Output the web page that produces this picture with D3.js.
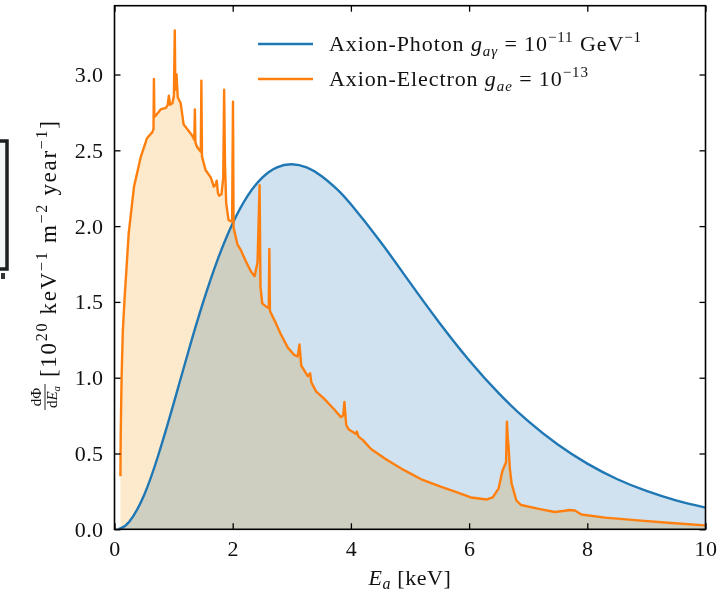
<!DOCTYPE html>
<html>
<head>
<meta charset="utf-8">
<script src="https://cdn.jsdelivr.net/npm/d3@7"></script>
<style>
  body { margin: 0; background: #fff; }
  svg { display: block; font-family: "Liberation Serif", "Times New Roman", serif; }
</style>
</head>
<body>
<div id="chart"></div>
<script>
// ticks
const xTicks = [0, 2, 4, 6, 8, 10];
const yTicks = [0, 0.5, 1.0, 1.5, 2.0, 2.5, 3.0];

// axion-photon spectrum (keV, 10^20 keV^-1 m^-2 year^-1)
const photonEnergy = [0.07, 0.1, 0.25, 0.5, 0.75, 1.0, 1.25, 1.5, 1.75, 2.0, 2.25, 2.5, 2.75, 3.0, 3.25, 3.5,
  3.75, 4.0, 4.5, 5.0, 5.5, 6.0, 6.5, 7.0, 7.5, 8.0, 8.5, 9.0, 9.5, 10];
const photonFlux = [0.002, 0.006, 0.050, 0.225, 0.500, 0.829, 1.173, 1.498, 1.784, 2.019, 2.198, 2.320, 2.388,
  2.408, 2.387, 2.331, 2.249, 2.144, 1.897, 1.627, 1.361, 1.115, 0.898, 0.713, 0.559, 0.433, 0.332, 0.253, 0.191,
  0.143];

// axion-electron spectrum, with the line features
const electronEnergy = [0.10, 0.105, 0.12, 0.14, 0.17, 0.24, 0.33, 0.44, 0.55, 0.64, 0.66, 0.667, 0.675, 0.70, 0.78,
  0.87, 0.90, 0.92, 0.94, 0.98, 1.005, 1.02, 1.03, 1.05, 1.07, 1.12, 1.17, 1.25, 1.31, 1.35, 1.36, 1.37, 1.40, 1.46,
  1.47, 1.48, 1.54, 1.63, 1.68, 1.71, 1.73, 1.75, 1.77, 1.81, 1.84, 1.855, 1.87, 1.89, 1.93, 1.99, 2.005, 2.015,
  2.08, 2.14, 2.22, 2.31, 2.37, 2.42, 2.455, 2.47, 2.50, 2.56, 2.61, 2.62, 2.63, 2.73, 2.81, 2.93, 3.04, 3.10, 3.13,
  3.16, 3.27, 3.31, 3.33, 3.41, 3.55, 3.72, 3.83, 3.87, 3.89, 3.92, 3.96, 4.08, 4.10, 4.13, 4.20, 4.34, 4.60, 4.90,
  5.19, 5.53, 5.75, 6.03, 6.30, 6.40, 6.50, 6.56, 6.60, 6.625, 6.64, 6.655, 6.665, 6.69, 6.72, 6.80, 6.88, 7.16,
  7.45, 7.62, 7.70, 7.79, 7.90, 8.30, 8.86, 9.42, 10.0];
const electronFlux = [0.35, 0.62, 1.00, 1.30, 1.52, 1.95, 2.26, 2.45, 2.58, 2.62, 2.64, 2.97, 2.72, 2.73, 2.77,
  2.78, 2.80, 2.86, 2.80, 2.81, 2.86, 3.29, 2.90, 3.00, 2.85, 2.81, 2.67, 2.63, 2.60, 2.57, 2.77, 2.55, 2.52, 2.49,
  2.96, 2.46, 2.37, 2.32, 2.26, 2.27, 2.30, 2.22, 2.20, 2.21, 2.32, 2.90, 2.40, 2.15, 2.04, 2.03, 2.82, 1.99,
  1.88, 1.84, 1.77, 1.70, 1.67, 1.76, 2.27, 1.60, 1.49, 1.47, 1.46, 1.85, 1.44, 1.36, 1.29, 1.20, 1.15, 1.14, 1.22,
  1.08, 1.01, 1.03, 0.97, 0.91, 0.86, 0.79, 0.74, 0.75, 0.84, 0.69, 0.66, 0.63, 0.645, 0.61, 0.59, 0.53, 0.46, 0.39,
  0.33, 0.28, 0.25, 0.21, 0.197, 0.21, 0.27, 0.38, 0.42, 0.44, 0.71, 0.60, 0.56, 0.40, 0.30, 0.19, 0.16, 0.136,
  0.114, 0.122, 0.127, 0.124, 0.098, 0.077, 0.059, 0.042, 0.026];

const photon = photonEnergy.map((e, i) => ({e: e, v: photonFlux[i]}));
const electron = electronEnergy.map((e, i) => ({e: e, v: electronFlux[i]}));

// set variables
const W = 720, H = 594;
const plot = {left: 114.5, right: 705.5, top: 5.7, bottom: 529.3};
let x = d3.scaleLinear().domain([0, 10]).range([plot.left, plot.right]);
let y = d3.scaleLinear().domain([0, 3.454]).range([plot.bottom, plot.top]);

let svg = d3.select("#chart")
  .append("svg")
  .attr("width", W)
  .attr("height", H);

// stray box at the left edge of the picture
svg.append("rect")
  .attr("x", -12).attr("y", 141).attr("width", 19).attr("height", 128)
  .attr("fill", "#f3f6f6").attr("stroke", "#1a1f1f").attr("stroke-width", 3.5);
svg.append("rect")
  .attr("x", 1).attr("y", 273).attr("width", 4).attr("height", 6)
  .attr("fill", "#333");

// filled areas
let area = d3.area().x(d => x(d.e)).y0(y(0)).y1(d => y(d.v));

svg.append("path")
  .datum(photon)
  .attr("fill", "#d0e2ef")
  .attr("d", area.curve(d3.curveNatural));

svg.append("path")
  .datum(electron)
  .attr("fill", "#fdeacd")
  .style("mix-blend-mode", "multiply")
  .attr("d", area.curve(d3.curveLinear));

// lines
svg.append("path")
  .datum(photon)
  .attr("fill", "none")
  .attr("stroke", "#1f77b4")
  .attr("stroke-width", 2.4)
  .attr("d", d3.line().x(d => x(d.e)).y(d => y(d.v)).curve(d3.curveNatural));

svg.append("path")
  .datum(electron)
  .attr("fill", "none")
  .attr("stroke", "#ff7f0e")
  .attr("stroke-width", 2.4)
  .attr("stroke-linejoin", "round")
  .attr("d", d3.line().x(d => x(d.e)).y(d => y(d.v)));

// axes, ticks pointing in on all four sides
let xAxis = d3.axisBottom(x).tickValues(xTicks).tickSize(-6).tickSizeOuter(0).tickPadding(11);
let yAxis = d3.axisLeft(y).tickValues(yTicks).tickSize(-6).tickSizeOuter(0).tickPadding(11)
  .tickFormat(d3.format(".1f"));

svg.append("g")
  .attr("transform", `translate(0,${plot.bottom})`)
  .call(xAxis);
svg.append("g")
  .attr("transform", `translate(${plot.left},0)`)
  .call(yAxis);
svg.append("g")
  .attr("transform", `translate(0,${plot.top})`)
  .call(d3.axisTop(x).tickValues(xTicks).tickSize(-6).tickSizeOuter(0).tickFormat(""));
svg.append("g")
  .attr("transform", `translate(${plot.right},0)`)
  .call(d3.axisRight(y).tickValues(yTicks).tickSize(-6).tickSizeOuter(0).tickFormat(""));

svg.selectAll(".domain").remove();
svg.selectAll(".tick line").attr("stroke", "#000").attr("stroke-width", 1.3);
svg.selectAll(".tick text")
  .attr("font-family", "Liberation Serif, serif")
  .attr("font-size", 22)
  .attr("letter-spacing", 0.4)
  .attr("fill", "#111");

svg.append("rect")
  .attr("x", plot.left).attr("y", plot.top)
  .attr("width", plot.right - plot.left).attr("height", plot.bottom - plot.top)
  .attr("fill", "none").attr("stroke", "#000").attr("stroke-width", 1.6);

// x label
let xl = svg.append("text")
  .attr("x", 410).attr("y", 585)
  .attr("text-anchor", "middle")
  .attr("font-size", 22)
  .attr("letter-spacing", 0.6)
  .attr("fill", "#111");
xl.append("tspan").attr("font-style", "italic").text("E");
xl.append("tspan").attr("font-style", "italic").attr("font-size", 16).attr("dy", 4).text("a");
xl.append("tspan").attr("dy", -4).text(" [keV]");

// y label
let yl = svg.append("g").attr("transform", "rotate(-90)").attr("fill", "#111");
yl.append("text").attr("x", -397).attr("y", 41).attr("text-anchor", "middle")
  .attr("font-size", 15).text("dΦ");
yl.append("line").attr("x1", -410).attr("x2", -384).attr("y1", 45).attr("y2", 45)
  .attr("stroke", "#111").attr("stroke-width", 0.9);
let den = yl.append("text").attr("x", -397).attr("y", 57).attr("text-anchor", "middle")
  .attr("font-size", 15);
den.append("tspan").text("d");
den.append("tspan").attr("font-style", "italic").text("E");
den.append("tspan").attr("font-style", "italic").attr("font-size", 11).attr("dy", 3).text("a");

let yt = yl.append("text").attr("x", -377).attr("y", 56)
  .attr("font-size", 23).attr("letter-spacing", 1.7);
yt.append("tspan").text("[10");
yt.append("tspan").attr("font-size", 16).attr("dy", -9).text("20");
yt.append("tspan").attr("dy", 9).text(" keV");
yt.append("tspan").attr("font-size", 16).attr("dy", -9).text("−1");
yt.append("tspan").attr("dy", 9).text(" m");
yt.append("tspan").attr("font-size", 16).attr("dy", -9).text("−2");
yt.append("tspan").attr("dy", 9).text(" year");
yt.append("tspan").attr("font-size", 16).attr("dy", -9).text("−1");
yt.append("tspan").attr("dy", 9).text("]");

// legend
const legendRows = [
  {color: "#1f77b4", y: 44},
  {color: "#ff7f0e", y: 79}
];
legendRows.forEach(r => {
  svg.append("line")
    .attr("x1", 258).attr("x2", 313).attr("y1", r.y).attr("y2", r.y)
    .attr("stroke", r.color).attr("stroke-width", 2.4);
});

let t1 = svg.append("text").attr("x", 329).attr("y", legendRows[0].y + 7)
  .attr("font-size", 22).attr("letter-spacing", 0.9).attr("fill", "#111");
t1.append("tspan").text("Axion-Photon ");
t1.append("tspan").attr("font-style", "italic").text("g");
t1.append("tspan").attr("font-style", "italic").attr("font-size", 15).attr("dy", 5).text("aγ");
t1.append("tspan").attr("dy", -5).text(" = 10");
t1.append("tspan").attr("font-size", 15).attr("dy", -9).text("−11");
t1.append("tspan").attr("dy", 9).text(" GeV");
t1.append("tspan").attr("font-size", 15).attr("dy", -9).text("−1");

let t2 = svg.append("text").attr("x", 329).attr("y", legendRows[1].y + 7)
  .attr("font-size", 22).attr("letter-spacing", 0.9).attr("fill", "#111");
t2.append("tspan").text("Axion-Electron ");
t2.append("tspan").attr("font-style", "italic").text("g");
t2.append("tspan").attr("font-style", "italic").attr("font-size", 15).attr("dy", 5).text("ae");
t2.append("tspan").attr("dy", -5).text(" = 10");
t2.append("tspan").attr("font-size", 15).attr("dy", -9).text("−13");
</script>
</body>
</html>
